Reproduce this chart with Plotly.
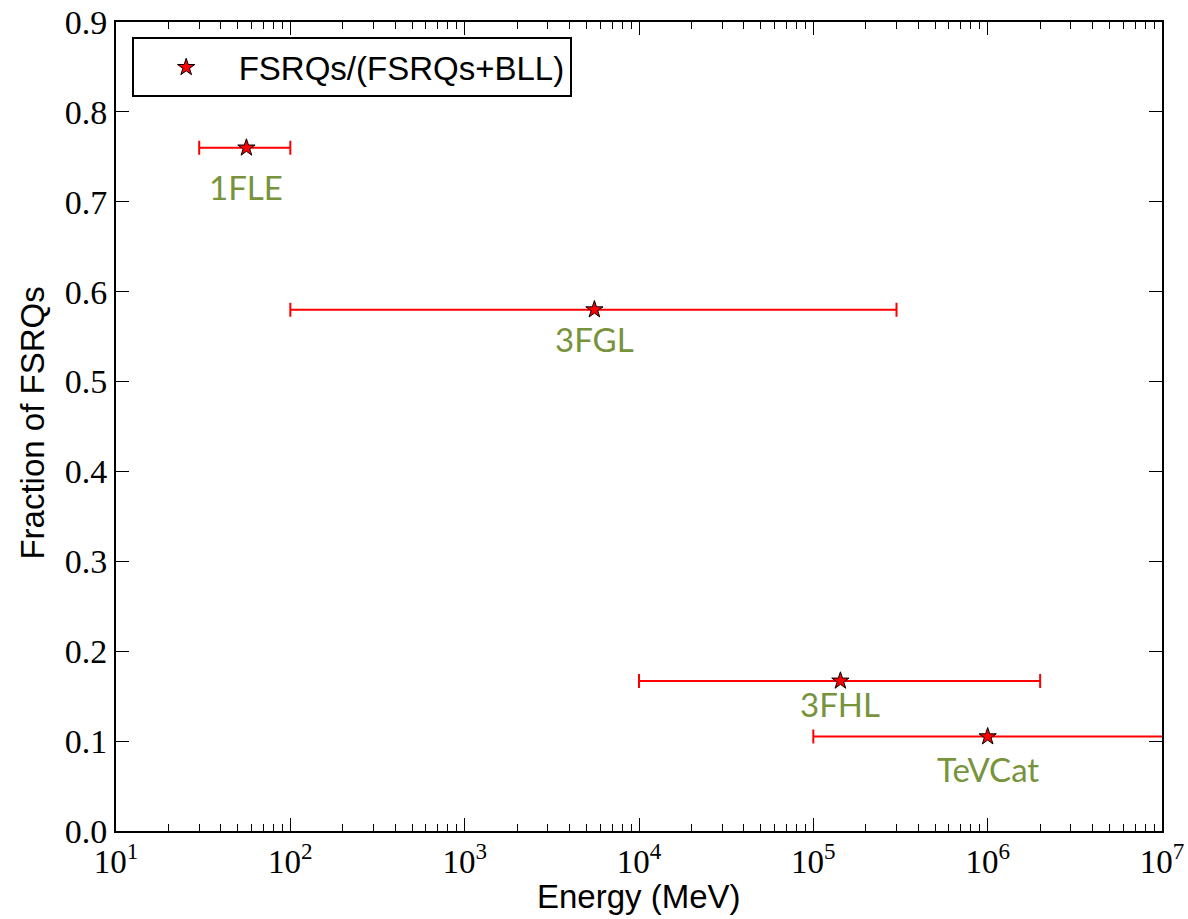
import numpy as np
import plotly.graph_objects as go

# --- data ---
catalogs = ["1FLE", "3FGL", "3FHL", "TeVCat"]
energy_center = [56.0, 5550.0, 1.43e5, 1.0e6]      # MeV
energy_low = [30.0, 100.0, 1.0e4, 1.0e5]           # MeV
energy_high = [100.0, 3.0e5, 2.0e6, 1.0e8]         # MeV
fsrq_fraction = [0.76, 0.58, 0.167, 0.105]
label_y = [0.717, 0.547, 0.141, 0.069]

x_ticks = [1e1, 1e2, 1e3, 1e4, 1e5, 1e6, 1e7]
x_ticktext = ["10<sup>1</sup>", "10<sup>2</sup>", "10<sup>3</sup>", "10<sup>4</sup>",
              "10<sup>5</sup>", "10<sup>6</sup>", "10<sup>7</sup>"]
y_ticks = [0.0, 0.1, 0.2, 0.3, 0.4, 0.5, 0.6, 0.7, 0.8, 0.9]
y_ticktext = ["0.0", "0.1", "0.2", "0.3", "0.4", "0.5", "0.6", "0.7", "0.8", "0.9"]

minor_ticks = [m * 10.0 ** k for k in range(1, 7) for m in range(2, 10)]

xc = np.array(energy_center)
err_plus = np.array(energy_high) - xc
err_minus = xc - np.array(energy_low)

fig = go.Figure()
fig.add_trace(go.Scatter(
    x=energy_center, y=fsrq_fraction, mode="markers",
    name="FSRQs/(FSRQs+BLL)",
    marker=dict(symbol="star", size=13, color="red", line=dict(color="black", width=1)),
    error_x=dict(type="data", symmetric=False, array=list(err_plus), arrayminus=list(err_minus),
                 color="red", thickness=2, width=7),
    cliponaxis=True,
))

for name, xv, yv in zip(catalogs, energy_center, label_y):
    fig.add_annotation(x=np.log10(xv), y=yv, text=name, showarrow=False,
                       font=dict(family="Lato", size=33, color="#77933C"),
                       xanchor="center", yanchor="middle")

# axis titles
fig.add_annotation(xref="paper", yref="paper", x=0.5, y=-0.081, text="Energy (MeV)",
                   showarrow=False, xanchor="center", yanchor="middle",
                   font=dict(family="Liberation Sans", size=33, color="black"))
fig.add_annotation(xref="paper", yref="paper", x=-0.08, y=0.504, text="Fraction of FSRQs",
                   showarrow=False, xanchor="center", yanchor="middle", textangle=-90,
                   font=dict(family="Liberation Sans", size=33, color="black"))

serif_x = dict(family="Liberation Serif", size=33, color="black")
serif_y = dict(family="Liberation Serif", size=34, color="black")
fig.update_xaxes(type="log", range=[1, 7], tickmode="array", tickvals=x_ticks, ticktext=x_ticktext,
                 ticks="inside", ticklen=13, tickwidth=1, tickcolor="black",
                 showline=True, linecolor="black", linewidth=2, mirror="allticks",
                 showgrid=False, zeroline=False, tickfont=serif_x, automargin=False,
                 ticklabeloverflow="allow",
                 minor=dict(tickmode="array", tickvals=minor_ticks, ticks="inside", ticklen=7,
                            tickwidth=1, tickcolor="black", showgrid=False))
fig.update_yaxes(range=[0, 0.9], tickmode="array", tickvals=y_ticks, ticktext=y_ticktext,
                 ticks="inside", ticklen=13, tickwidth=1, tickcolor="black",
                 showline=True, linecolor="black", linewidth=2, mirror="allticks",
                 showgrid=False, zeroline=False, tickfont=serif_y, automargin=False,
                 ticklabeloverflow="allow")

fig.update_layout(
    width=1188, height=919,
    margin=dict(l=116, r=26, t=22, b=88),
    paper_bgcolor="white", plot_bgcolor="white",
    showlegend=True,
    legend=dict(x=0.015, y=0.981, xanchor="left", yanchor="top",
                bordercolor="black", borderwidth=2, bgcolor="white",
                font=dict(family="Liberation Sans", size=33, color="black"),
                itemwidth=95),
)

fig.write_html("out.html",
               config={"displayModeBar": False},
               post_script="document.body.style.margin='0';document.body.style.overflow='hidden';")
